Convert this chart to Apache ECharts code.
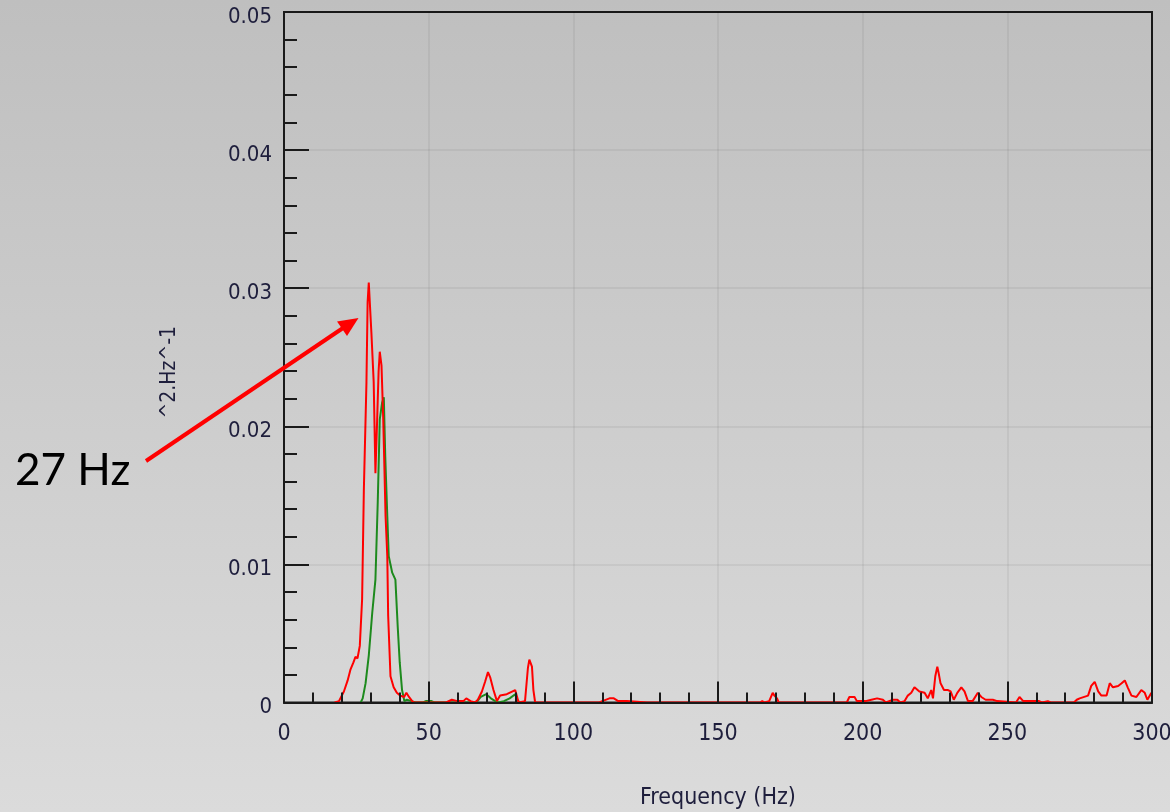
<!DOCTYPE html>
<html>
<head>
<meta charset="utf-8">
<script src="https://cdn.jsdelivr.net/npm/echarts@6/dist/echarts.min.js"></script>
<style>
html,body{margin:0;padding:0;}
#chart{width:1170px;height:812px;background:linear-gradient(to bottom,#bfbfbf 0%,#cdcdcd 50%,#dbdbdb 100%);}
</style>
</head>
<body>
<div id="chart"></div>
<script>
// ---- data ----
const redFreq = [17.5,19,20.7,22,23,24,24.7,25.4,26.2,27.0,27.6,28.5,28.9,29.3,29.8,30.2,31.0,31.6,32.2,32.7,33.1,33.7,34.3,35.1,35.7,36.0,36.8,37.9,39,40.2,41.5,42.3,43.2,44.3,45,
  56,58,60,62,63,64.5,66,67,68.4,69.5,70.5,71.3,72.4,73.6,74.7,77,79.9,81.1,83.3,84.3,84.8,85.7,86.2,86.8,92.5,93.1,93.6,97.2,97.7,98.2,
  109,110,112.5,114,115.5,116,117,118.5,119,125.5,126,126.5,164.5,165.3,166,167.7,168.9,169.5,170.4,171,180,180.4,181,
  194.5,195.4,197.2,198,201,203,205,207,208,210.5,212,213,214.5,215.6,216.8,217.9,219.6,221.4,222.5,223.7,224.3,225.1,225.8,226.2,226.9,228.1,229.5,230.4,231.5,232.7,234.1,235.2,236.4,238,239.8,241,242.5,245,246.5,247,
  253,254.2,255.5,258,261,262,264,265,273,274,275,277.9,279,280.2,281.4,282.5,284.3,285.4,286.5,288.3,289.5,290.6,291.6,292.9,294.6,296.3,297.5,298.4,299.8,300];
const redVal = [0,0.0001,0.0008,0.0016,0.0024,0.0029,0.0033,0.0032,0.0041,0.0075,0.0154,0.0232,0.0290,0.0304,0.0304,0.0268,0.0232,0.0166,0.0205,0.0240,0.0254,0.0244,0.0205,0.0135,0.0106,0.0063,0.0019,0.0011,0.0007,0.0005,0.0004,0.0007,0.0004,0.0001,0,
  0,0.0002,0.0001,0.0001,0.0003,0.0001,0,0.0002,0.0008,0.0015,0.0022,0.0018,0.0009,0.0001,0.0005,0.0006,0.0009,0,0.0001,0.0025,0.0031,0.0026,0.0009,0,0,0.0001,0,0,0.0001,0,
  0,0.0001,0.0003,0.0003,0.0001,0,0.0001,0.0001,0,0,0.0001,0,0,0.0001,0,0.0001,0.0007,0.0005,0.0003,0,0,0.0001,0,
  0,0.0004,0.0004,0.0001,0.0001,0.0002,0.0003,0.0002,0,0.0002,0.0002,0,0.0001,0.0005,0.0007,0.0011,0.0008,0.0007,0.0003,0.0009,0.0003,0.0019,0.0026,0.0022,0.0014,0.0009,0.0009,0.0008,0.0002,0.0007,0.0011,0.0008,0.0001,0.0001,0.0007,0.0004,0.0002,0.0002,0.0001,0,
  0,0.0004,0.0001,0.0001,0.0001,0,0.0001,0,0,0.0002,0.0003,0.0005,0.0012,0.0015,0.0008,0.0005,0.0005,0.0014,0.0011,0.0012,0.0014,0.0016,0.0011,0.0005,0.0004,0.0009,0.0007,0.0002,0.0007,0.0007];

const greenFreq = [26.5,27.2,28.2,29.3,30.5,31.6,32.4,33.1,33.9,34.5,35.0,35.7,36.2,37.4,38.5,39.3,40.0,40.8,41.6,42.5,44,45.5,48,49,51,52,66.5,68,69.9,71.5,73,74,76,78,79.9,80.5,81.5];
const greenVal = [0,0.0003,0.0014,0.0034,0.0065,0.0089,0.0145,0.0205,0.0217,0.0221,0.0178,0.0135,0.0106,0.0094,0.0089,0.0055,0.0029,0.0009,0.0001,0.0002,0.0001,0,0,0.0001,0.0001,0,0,0.0004,0.0006,0.0003,0.0001,0,0.0001,0.0003,0.0006,0.0002,0];

const xTicks = [0,50,100,150,200,250,300];
const yTickLabels = ['0','0.01','0.02','0.03','0.04','0.05'];

const seriesNames = ['Spectrum A','Spectrum B'];
const xAxisName = 'Frequency (Hz)';
const yAxisName = '^2.Hz^-1';
const annotationText = '27 Hz';

// ---- chart ----
const zip = (a,b) => a.map((v,i)=>[v,b[i]]);
const FONT = "'DejaVu Sans Condensed','DejaVu Sans','Liberation Sans',sans-serif";
const LBL = '#1e1e3c';
const chart = echarts.init(document.getElementById('chart'), null, {renderer:'canvas'});

chart.setOption({
  backgroundColor: 'transparent',
  animation: false,
  grid: {left:284, top:12, right:18, bottom:109.5, outerBoundsMode:'none', containLabel:false,
    show:true, borderColor:'#1a1a1a', borderWidth:2, backgroundColor:'transparent'},
  xAxis: {
    type:'value', min:xTicks[0], max:xTicks[xTicks.length-1], interval:xTicks[1]-xTicks[0], z:5,
    axisLine:{show:true, lineStyle:{color:'#1a1a1a', width:2}},
    axisTick:{show:true, inside:true, length:21, lineStyle:{color:'#1a1a1a', width:2}},
    minorTick:{show:true, splitNumber:5, length:10, lineStyle:{color:'#1a1a1a', width:2}},
    splitLine:{show:true, lineStyle:{color:'rgba(0,0,0,0.05)', width:2}},
    axisLabel:{margin:20, fontSize:23, fontFamily:FONT, color:LBL},
    name:xAxisName, nameLocation:'middle', nameGap:84,
    nameTextStyle:{fontSize:23, fontFamily:FONT, color:LBL}
  },
  yAxis: {
    type:'value', min:0, max:0.05, interval:0.01, z:5,
    axisLine:{show:true, lineStyle:{color:'#1a1a1a', width:2}},
    axisTick:{show:true, inside:true, length:25, lineStyle:{color:'#1a1a1a', width:2}},
    minorTick:{show:true, splitNumber:5, length:13, lineStyle:{color:'#1a1a1a', width:2}},
    splitLine:{show:true, lineStyle:{color:'rgba(0,0,0,0.05)', width:2}},
    axisLabel:{margin:12, fontSize:22, fontFamily:FONT, color:LBL, verticalAlign:'top', lineHeight:10,
      formatter:(v)=>yTickLabels[Math.round(v*100)]},
    name:yAxisName, nameLocation:'middle', nameGap:104, nameRotate:90,
    nameTextStyle:{fontSize:21, fontFamily:FONT, color:LBL, padding:[0,30,0,0]}
  },
  series: [
    {name:seriesNames[1], type:'line', data:zip(greenFreq,greenVal), showSymbol:false, symbol:'none', z:1,
      lineStyle:{color:'#1d8a1d', width:2}},
    {name:seriesNames[0], type:'line', data:zip(redFreq,redVal), showSymbol:false, symbol:'none', z:2,
      lineStyle:{color:'#ff0000', width:2}}
  ],
  graphic: [
    {type:'line', shape:{x1:146, y1:461, x2:343, y2:328}, style:{stroke:'#ff0000', lineWidth:4}, z:20},
    {type:'polygon', shape:{points:[[358.5,318],[347,336],[337,321.5]]}, style:{fill:'#ff0000'}, z:20},
    {type:'text', left:15, top:449, style:{text:annotationText, font:"44px Lato, 'Open Sans', sans-serif", fill:'#000000'}, z:20}
  ]
});
</script>
</body>
</html>
